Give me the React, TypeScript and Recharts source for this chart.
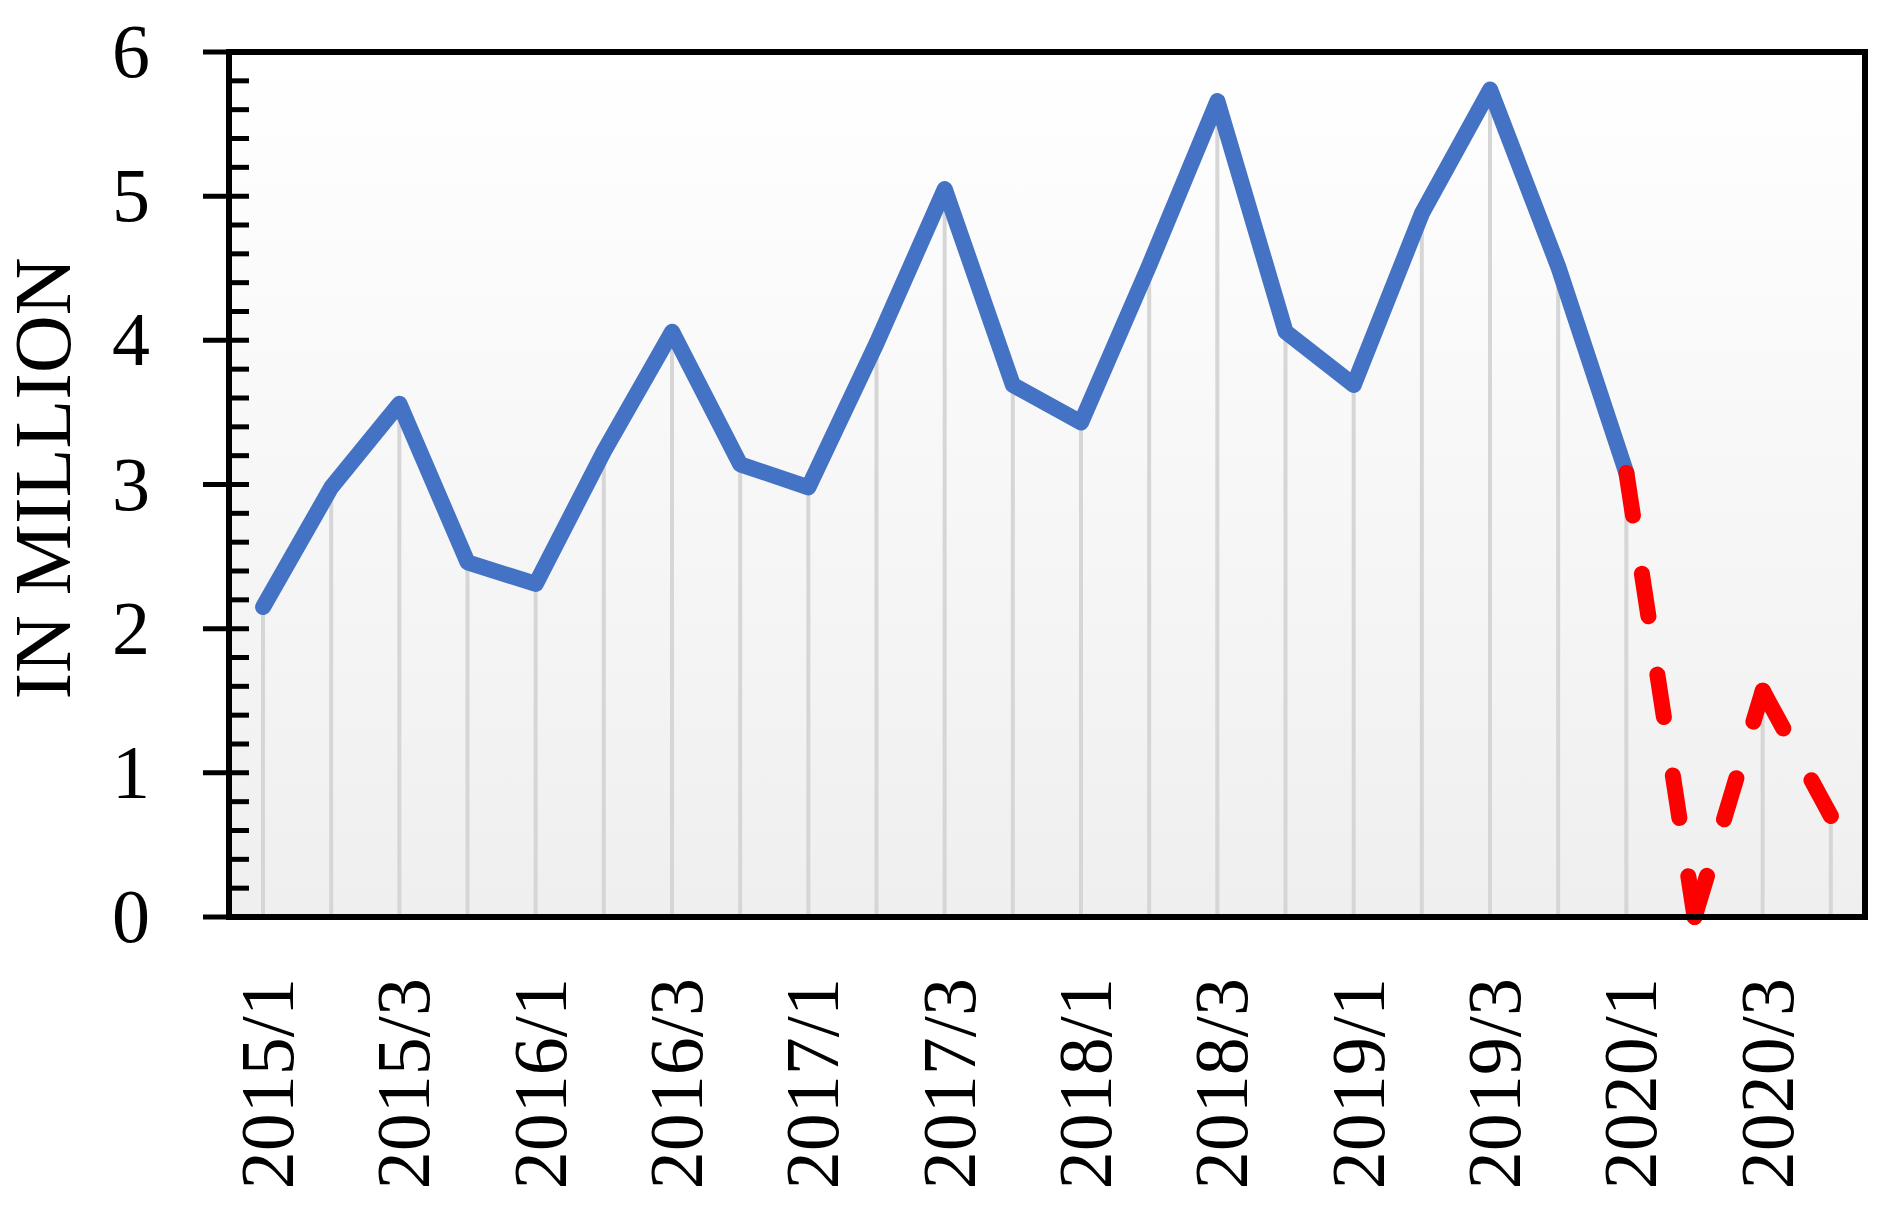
import React from 'react'
import { ComposedChart, Line, Bar, XAxis, YAxis, CartesianGrid, ReferenceArea } from 'recharts'

const categories = [
  '2015/1', '2015/2', '2015/3', '2015/4',
  '2016/1', '2016/2', '2016/3', '2016/4',
  '2017/1', '2017/2', '2017/3', '2017/4',
  '2018/1', '2018/2', '2018/3', '2018/4',
  '2019/1', '2019/2', '2019/3', '2019/4',
  '2020/1', '2020/2', '2020/3', '2020/4',
]

// observed, 2015/1 .. 2020/1
const actual = [
  2.15, 2.98, 3.56, 2.46,
  2.31, 3.23, 4.06, 3.14,
  2.98, 3.98, 5.05, 3.69,
  3.43, 4.52, 5.66, 4.06,
  3.69, 4.88, 5.74, 4.51,
  3.08,
]

// dashed red part, 2020/1 .. 2020/4
const forecast = [3.08, 0, 1.57, 0.7]

const yTicks = [
  0, 0.2, 0.4, 0.6, 0.8, 1, 1.2, 1.4, 1.6, 1.8, 2, 2.2, 2.4, 2.6, 2.8, 3,
  3.2, 3.4, 3.6, 3.8, 4, 4.2, 4.4, 4.6, 4.8, 5, 5.2, 5.4, 5.6, 5.8, 6,
]

const forecastStart = actual.length - 1
// the dash pattern restarts at every point in the original, so each
// forecast segment is its own two-point line
const segKeys = forecast.slice(1).map((_, k) => `seg${k}`)

const rows = categories.map((cat, i) => {
  const a = i < actual.length ? actual[i] : null
  const fi = i - forecastStart
  const f = fi >= 0 ? forecast[fi] : null
  const row: any = { cat, actual: a, drop: a ?? f }
  segKeys.forEach((key, k) => {
    row[key] = fi === k || fi === k + 1 ? f : null
  })
  return row
})

const FONT = '"Liberation Serif", "Times New Roman", serif'
const AXIS_X = 229
const AXIS_Y = 917

function YTick(props: any) {
  const { y, payload } = props
  const major = Number.isInteger(payload.value)
  return (
    <g>
      <line x1={major ? 203 : AXIS_X} x2={249} y1={y} y2={y} stroke="#000" strokeWidth={5} />
      {major && (
        <text x={150} y={y} dy={25} textAnchor="end" fontSize={76} fontFamily={FONT} fill="#000">
          {payload.value}
        </text>
      )}
    </g>
  )
}

function XTick(props: any) {
  const { x, payload } = props
  return (
    <text
      transform={`translate(${x + 30},${AXIS_Y + 61}) rotate(-90)`}
      textAnchor="end"
      fontSize={76}
      fontFamily={FONT}
      fill="#000"
    >
      {payload.value}
    </text>
  )
}

function YLabel(props: any) {
  const { viewBox } = props
  const cy = viewBox.y + viewBox.height / 2
  return (
    <text
      transform={`translate(70,${cy - 6}) rotate(-90)`}
      textAnchor="middle"
      fontSize={80}
      fontFamily={FONT}
      fill="#000"
    >
      IN MILLION
    </text>
  )
}

export default function App() {
  return (
    <div style={{ width: 1884, height: 1212, background: '#fff' }}>
      <style>{'body{margin:0}'}</style>
      <ComposedChart
        width={1884}
        height={1212}
        data={rows}
        margin={{ top: 52, right: 19, bottom: 0, left: 0 }}
      >
        <defs>
          <linearGradient id="plotBg" x1="0" y1="0" x2="0" y2="1">
            <stop offset="0%" stopColor="#ffffff" />
            <stop offset="100%" stopColor="#efefef" />
          </linearGradient>
        </defs>
        <CartesianGrid horizontal={false} vertical={false} fill="url(#plotBg)" />
        <XAxis
          dataKey="cat"
          height={295}
          interval={1}
          tickLine={false}
          axisLine={{ stroke: '#000', strokeWidth: 6 }}
          tick={<XTick />}
        />
        <YAxis
          width={AXIS_X}
          domain={[0, 6]}
          ticks={yTicks}
          interval={0}
          tickLine={false}
          axisLine={{ stroke: '#000', strokeWidth: 6 }}
          tick={<YTick />}
          label={<YLabel />}
        />
        <Bar dataKey="drop" barSize={4} fill="#d6d6d6" isAnimationActive={false} />
        <Line
          dataKey="actual"
          stroke="#4472c4"
          strokeWidth={16}
          strokeLinecap="round"
          strokeLinejoin="round"
          dot={false}
          activeDot={false}
          isAnimationActive={false}
        />
        {segKeys.map((key) => (
          <Line
            key={key}
            dataKey={key}
            stroke="#ff0000"
            strokeWidth={16}
            strokeDasharray="43 59"
            strokeLinecap="round"
            strokeLinejoin="round"
            dot={false}
            activeDot={false}
            isAnimationActive={false}
          />
        ))}
        <ReferenceArea y1={0} y2={6} fill="none" stroke="#000" strokeWidth={6} />
      </ComposedChart>
    </div>
  )
}
